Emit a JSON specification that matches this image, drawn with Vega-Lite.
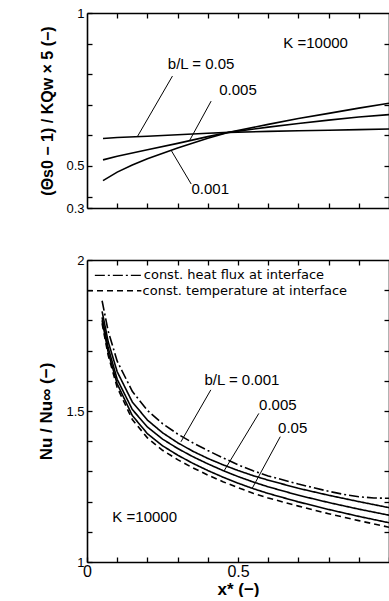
{
  "$schema": "https://vega.github.io/schema/vega-lite/v6.json",
  "padding": {"left": 37, "top": 7, "right": 0, "bottom": 0},
  "spacing": 39,
  "background": "white",
  "config": {
    "view": {"stroke": null},
    "axis": {
      "grid": false,
      "tickSize": -5,
      "tickColor": "black",
      "tickWidth": 1.3,
      "domainColor": "black",
      "domainWidth": 1.6,
      "labelFont": "Liberation Sans",
      "labelColor": "black",
      "labelFontSize": 13,
      "labelPadding": 8,
      "labelOverlap": false,
      "labelFlush": false,
      "titleFont": "Liberation Sans",
      "titleColor": "black",
      "titleFontWeight": "bold",
      "titleFontSize": 16
    }
  },
  "datasets": {
    "topCurves": [
      {"series": "0.05", "x": 0.053, "y": 0.590}, {"series": "0.05", "x": 0.1, "y": 0.593}, {"series": "0.05", "x": 0.2, "y": 0.597}, {"series": "0.05", "x": 0.3, "y": 0.602}, {"series": "0.05", "x": 0.4, "y": 0.607}, {"series": "0.05", "x": 0.47, "y": 0.610}, {"series": "0.05", "x": 0.6, "y": 0.613}, {"series": "0.05", "x": 0.7, "y": 0.615}, {"series": "0.05", "x": 0.8, "y": 0.617}, {"series": "0.05", "x": 0.9, "y": 0.619}, {"series": "0.05", "x": 1.0, "y": 0.621},
      {"series": "0.005", "x": 0.053, "y": 0.520}, {"series": "0.005", "x": 0.1, "y": 0.532}, {"series": "0.005", "x": 0.2, "y": 0.553}, {"series": "0.005", "x": 0.3, "y": 0.574}, {"series": "0.005", "x": 0.4, "y": 0.596}, {"series": "0.005", "x": 0.47, "y": 0.610}, {"series": "0.005", "x": 0.6, "y": 0.627}, {"series": "0.005", "x": 0.7, "y": 0.639}, {"series": "0.005", "x": 0.8, "y": 0.650}, {"series": "0.005", "x": 0.9, "y": 0.660}, {"series": "0.005", "x": 1.0, "y": 0.668},
      {"series": "0.001", "x": 0.053, "y": 0.452}, {"series": "0.001", "x": 0.1, "y": 0.480}, {"series": "0.001", "x": 0.15, "y": 0.503}, {"series": "0.001", "x": 0.2, "y": 0.524}, {"series": "0.001", "x": 0.3, "y": 0.559}, {"series": "0.001", "x": 0.4, "y": 0.591}, {"series": "0.001", "x": 0.47, "y": 0.610}, {"series": "0.001", "x": 0.6, "y": 0.636}, {"series": "0.001", "x": 0.7, "y": 0.655}, {"series": "0.001", "x": 0.8, "y": 0.672}, {"series": "0.001", "x": 0.9, "y": 0.689}, {"series": "0.001", "x": 1.0, "y": 0.705}
    ],
    "topLeaders": [
      {"x1": 0.283, "y1": 0.794, "x2": 0.168, "y2": 0.598},
      {"x1": 0.411, "y1": 0.712, "x2": 0.339, "y2": 0.582},
      {"x1": 0.345, "y1": 0.441, "x2": 0.280, "y2": 0.549}
    ],
    "topLabels": [
      {"x": 0.757, "y": 0.902, "label": "K =10000"},
      {"x": 0.378, "y": 0.833, "label": "b/L = 0.05"},
      {"x": 0.50, "y": 0.748, "label": "0.005"},
      {"x": 0.408, "y": 0.425, "label": "0.001"}
    ],
    "botCurves": [
      {"series": "hf", "style": "dashdot", "x": 0.05, "y": 1.865}, {"series": "hf", "style": "dashdot", "x": 0.07, "y": 1.765}, {"series": "hf", "style": "dashdot", "x": 0.1, "y": 1.665}, {"series": "hf", "style": "dashdot", "x": 0.15, "y": 1.565}, {"series": "hf", "style": "dashdot", "x": 0.2, "y": 1.502}, {"series": "hf", "style": "dashdot", "x": 0.25, "y": 1.458}, {"series": "hf", "style": "dashdot", "x": 0.3, "y": 1.424}, {"series": "hf", "style": "dashdot", "x": 0.35, "y": 1.395}, {"series": "hf", "style": "dashdot", "x": 0.4, "y": 1.369}, {"series": "hf", "style": "dashdot", "x": 0.45, "y": 1.345}, {"series": "hf", "style": "dashdot", "x": 0.5, "y": 1.322}, {"series": "hf", "style": "dashdot", "x": 0.55, "y": 1.302}, {"series": "hf", "style": "dashdot", "x": 0.6, "y": 1.285}, {"series": "hf", "style": "dashdot", "x": 0.7, "y": 1.258}, {"series": "hf", "style": "dashdot", "x": 0.8, "y": 1.234}, {"series": "hf", "style": "dashdot", "x": 0.85, "y": 1.224}, {"series": "hf", "style": "dashdot", "x": 0.9, "y": 1.216}, {"series": "hf", "style": "dashdot", "x": 0.95, "y": 1.212}, {"series": "hf", "style": "dashdot", "x": 1.0, "y": 1.211},
      {"series": "0.001", "style": "solid", "x": 0.05, "y": 1.83}, {"series": "0.001", "style": "solid", "x": 0.07, "y": 1.73}, {"series": "0.001", "style": "solid", "x": 0.1, "y": 1.63}, {"series": "0.001", "style": "solid", "x": 0.15, "y": 1.53}, {"series": "0.001", "style": "solid", "x": 0.2, "y": 1.47}, {"series": "0.001", "style": "solid", "x": 0.25, "y": 1.428}, {"series": "0.001", "style": "solid", "x": 0.3, "y": 1.395}, {"series": "0.001", "style": "solid", "x": 0.35, "y": 1.367}, {"series": "0.001", "style": "solid", "x": 0.4, "y": 1.343}, {"series": "0.001", "style": "solid", "x": 0.45, "y": 1.322}, {"series": "0.001", "style": "solid", "x": 0.5, "y": 1.303}, {"series": "0.001", "style": "solid", "x": 0.55, "y": 1.286}, {"series": "0.001", "style": "solid", "x": 0.6, "y": 1.271}, {"series": "0.001", "style": "solid", "x": 0.7, "y": 1.244}, {"series": "0.001", "style": "solid", "x": 0.8, "y": 1.221}, {"series": "0.001", "style": "solid", "x": 0.9, "y": 1.2}, {"series": "0.001", "style": "solid", "x": 1.0, "y": 1.18},
      {"series": "0.005", "style": "solid", "x": 0.05, "y": 1.81}, {"series": "0.005", "style": "solid", "x": 0.07, "y": 1.71}, {"series": "0.005", "style": "solid", "x": 0.1, "y": 1.605}, {"series": "0.005", "style": "solid", "x": 0.15, "y": 1.505}, {"series": "0.005", "style": "solid", "x": 0.2, "y": 1.447}, {"series": "0.005", "style": "solid", "x": 0.25, "y": 1.407}, {"series": "0.005", "style": "solid", "x": 0.3, "y": 1.376}, {"series": "0.005", "style": "solid", "x": 0.35, "y": 1.349}, {"series": "0.005", "style": "solid", "x": 0.4, "y": 1.325}, {"series": "0.005", "style": "solid", "x": 0.45, "y": 1.303}, {"series": "0.005", "style": "solid", "x": 0.5, "y": 1.283}, {"series": "0.005", "style": "solid", "x": 0.55, "y": 1.265}, {"series": "0.005", "style": "solid", "x": 0.6, "y": 1.249}, {"series": "0.005", "style": "solid", "x": 0.7, "y": 1.221}, {"series": "0.005", "style": "solid", "x": 0.8, "y": 1.197}, {"series": "0.005", "style": "solid", "x": 0.9, "y": 1.175}, {"series": "0.005", "style": "solid", "x": 1.0, "y": 1.155},
      {"series": "0.05", "style": "solid", "x": 0.05, "y": 1.80}, {"series": "0.05", "style": "solid", "x": 0.07, "y": 1.695}, {"series": "0.05", "style": "solid", "x": 0.1, "y": 1.59}, {"series": "0.05", "style": "solid", "x": 0.15, "y": 1.485}, {"series": "0.05", "style": "solid", "x": 0.2, "y": 1.425}, {"series": "0.05", "style": "solid", "x": 0.25, "y": 1.385}, {"series": "0.05", "style": "solid", "x": 0.3, "y": 1.354}, {"series": "0.05", "style": "solid", "x": 0.35, "y": 1.327}, {"series": "0.05", "style": "solid", "x": 0.4, "y": 1.303}, {"series": "0.05", "style": "solid", "x": 0.45, "y": 1.281}, {"series": "0.05", "style": "solid", "x": 0.5, "y": 1.261}, {"series": "0.05", "style": "solid", "x": 0.55, "y": 1.243}, {"series": "0.05", "style": "solid", "x": 0.6, "y": 1.227}, {"series": "0.05", "style": "solid", "x": 0.7, "y": 1.199}, {"series": "0.05", "style": "solid", "x": 0.8, "y": 1.174}, {"series": "0.05", "style": "solid", "x": 0.9, "y": 1.151}, {"series": "0.05", "style": "solid", "x": 1.0, "y": 1.13},
      {"series": "ct", "style": "dashed", "x": 0.05, "y": 1.79}, {"series": "ct", "style": "dashed", "x": 0.07, "y": 1.685}, {"series": "ct", "style": "dashed", "x": 0.1, "y": 1.578}, {"series": "ct", "style": "dashed", "x": 0.15, "y": 1.472}, {"series": "ct", "style": "dashed", "x": 0.2, "y": 1.411}, {"series": "ct", "style": "dashed", "x": 0.25, "y": 1.37}, {"series": "ct", "style": "dashed", "x": 0.3, "y": 1.339}, {"series": "ct", "style": "dashed", "x": 0.35, "y": 1.312}, {"series": "ct", "style": "dashed", "x": 0.4, "y": 1.288}, {"series": "ct", "style": "dashed", "x": 0.45, "y": 1.266}, {"series": "ct", "style": "dashed", "x": 0.5, "y": 1.246}, {"series": "ct", "style": "dashed", "x": 0.55, "y": 1.228}, {"series": "ct", "style": "dashed", "x": 0.6, "y": 1.212}, {"series": "ct", "style": "dashed", "x": 0.7, "y": 1.185}, {"series": "ct", "style": "dashed", "x": 0.8, "y": 1.16}, {"series": "ct", "style": "dashed", "x": 0.9, "y": 1.137}, {"series": "ct", "style": "dashed", "x": 1.0, "y": 1.115}
    ],
    "botLeaders": [
      {"x1": 0.41, "y1": 1.57, "x2": 0.311, "y2": 1.398},
      {"x1": 0.569, "y1": 1.492, "x2": 0.454, "y2": 1.302},
      {"x1": 0.64, "y1": 1.415, "x2": 0.547, "y2": 1.244}
    ],
    "botLabels": [
      {"x": 0.513, "y": 1.603, "label": "b/L = 0.001"},
      {"x": 0.632, "y": 1.52, "label": "0.005"},
      {"x": 0.681, "y": 1.444, "label": "0.05"},
      {"x": 0.191, "y": 1.149, "label": "K =10000"}
    ],
    "legendText": [
      {"x": 0.188, "y": 1.949, "label": "const. heat flux at interface"},
      {"x": 0.184, "y": 1.898, "label": "const. temperature at interface"}
    ],
    "legendHF": [{"x1": 0.026, "x2": 0.184, "y": 1.949}],
    "legendCT": [{"x1": 0.0, "x2": 0.18, "y": 1.898}]
  },
  "vconcat": [
    {
      "width": 302,
      "height": 195,
      "resolve": {"axis": {"x": "independent", "y": "independent"}},
      "layer": [
        {
          "data": {"name": "topCurves"},
          "mark": {"type": "line", "color": "black", "strokeWidth": 1.6},
          "encoding": {
            "x": {"field": "x", "type": "quantitative", "scale": {"domain": [0, 1], "nice": false},
                  "axis": {"orient": "bottom", "values": [0.1, 0.2, 0.3, 0.4, 0.5, 0.6, 0.7, 0.8, 0.9], "labels": false, "title": null}},
            "y": {"field": "y", "type": "quantitative", "scale": {"domain": [0.3627, 1], "nice": false, "zero": false},
                  "axis": {"orient": "left", "values": [0.3627, 0.4, 0.5, 0.6, 0.7, 0.8, 0.9, 1],
                           "labelExpr": "datum.value == 1 ? '1' : datum.value == 0.5 ? '0.5' : datum.value < 0.38 ? '0.3' : ''",
                           "title": "(Θs0 − 1) / KQw  × 5 (−)", "titlePadding": 10}},
            "detail": {"field": "series", "type": "nominal"}
          }
        },
        {
          "data": {"name": "topLeaders"},
          "mark": {"type": "rule", "color": "black", "strokeWidth": 1},
          "encoding": {
            "x": {"field": "x1", "type": "quantitative", "axis": null},
            "y": {"field": "y1", "type": "quantitative", "axis": null},
            "x2": {"field": "x2"},
            "y2": {"field": "y2"}
          }
        },
        {
          "data": {"name": "topLabels"},
          "mark": {"type": "text", "font": "Liberation Sans", "fontSize": 15, "color": "black", "align": "center", "baseline": "middle"},
          "encoding": {
            "x": {"field": "x", "type": "quantitative", "axis": null},
            "y": {"field": "y", "type": "quantitative", "axis": null},
            "text": {"field": "label"}
          }
        },
        {
          "data": {"name": "topCurves"},
          "mark": {"type": "line", "opacity": 0},
          "encoding": {
            "x": {"field": "x", "type": "quantitative",
                  "axis": {"orient": "top", "values": [0.1, 0.2, 0.3, 0.4, 0.5, 0.6, 0.7, 0.8, 0.9], "labels": false, "title": null}},
            "y": {"field": "y", "type": "quantitative",
                  "axis": {"orient": "right", "values": [0.4, 0.5, 0.6, 0.7, 0.8, 0.9], "labels": false, "title": null}},
            "detail": {"field": "series", "type": "nominal"}
          }
        }
      ]
    },
    {
      "width": 302,
      "height": 302,
      "resolve": {"axis": {"x": "independent", "y": "independent"}},
      "layer": [
        {
          "data": {"name": "botCurves"},
          "mark": {"type": "line", "color": "black", "strokeWidth": 1.6},
          "encoding": {
            "x": {"field": "x", "type": "quantitative", "scale": {"domain": [0, 1], "nice": false},
                  "axis": {"orient": "bottom", "values": [0, 0.1, 0.2, 0.3, 0.4, 0.5, 0.6, 0.7, 0.8, 0.9, 1],
                           "labelExpr": "datum.value == 0 ? '0' : datum.value == 0.5 ? '0.5' : ''",
                           "labelFontSize": 16, "labelPadding": 6,
                           "title": "x* (−)", "titleFontSize": 17, "titlePadding": 2}},
            "y": {"field": "y", "type": "quantitative", "scale": {"domain": [1, 2], "nice": false, "zero": false},
                  "axis": {"orient": "left", "values": [1, 1.1, 1.2, 1.3, 1.4, 1.5, 1.6, 1.7, 1.8, 1.9, 2],
                           "labelExpr": "datum.value == 1 ? '1' : datum.value == 1.5 ? '1.5' : datum.value == 2 ? '2' : ''",
                           "title": "Nu / Nu∞ (−)", "titlePadding": 10, "titleFontSize": 17}},
            "detail": {"field": "series", "type": "nominal"},
            "strokeDash": {"field": "style", "type": "nominal",
                           "scale": {"domain": ["solid", "dashdot", "dashed"], "range": [[1, 0], [10, 3, 2, 3], [6, 4]]},
                           "legend": null}
          }
        },
        {
          "data": {"name": "botLeaders"},
          "mark": {"type": "rule", "color": "black", "strokeWidth": 1},
          "encoding": {
            "x": {"field": "x1", "type": "quantitative", "axis": null},
            "y": {"field": "y1", "type": "quantitative", "axis": null},
            "x2": {"field": "x2"},
            "y2": {"field": "y2"}
          }
        },
        {
          "data": {"name": "legendHF"},
          "mark": {"type": "rule", "color": "black", "strokeWidth": 1.4, "strokeDash": [10, 3, 2, 3]},
          "encoding": {
            "x": {"field": "x1", "type": "quantitative", "axis": null},
            "x2": {"field": "x2"},
            "y": {"field": "y", "type": "quantitative", "axis": null}
          }
        },
        {
          "data": {"name": "legendCT"},
          "mark": {"type": "rule", "color": "black", "strokeWidth": 1.4, "strokeDash": [6, 4]},
          "encoding": {
            "x": {"field": "x1", "type": "quantitative", "axis": null},
            "x2": {"field": "x2"},
            "y": {"field": "y", "type": "quantitative", "axis": null}
          }
        },
        {
          "data": {"name": "botLabels"},
          "mark": {"type": "text", "font": "Liberation Sans", "fontSize": 15, "color": "black", "align": "center", "baseline": "middle"},
          "encoding": {
            "x": {"field": "x", "type": "quantitative", "axis": null},
            "y": {"field": "y", "type": "quantitative", "axis": null},
            "text": {"field": "label"}
          }
        },
        {
          "data": {"name": "legendText"},
          "mark": {"type": "text", "font": "DejaVu Sans", "fontSize": 13, "color": "black", "align": "left", "baseline": "middle"},
          "encoding": {
            "x": {"field": "x", "type": "quantitative", "axis": null},
            "y": {"field": "y", "type": "quantitative", "axis": null},
            "text": {"field": "label"}
          }
        },
        {
          "data": {"name": "botCurves"},
          "mark": {"type": "line", "opacity": 0},
          "encoding": {
            "x": {"field": "x", "type": "quantitative",
                  "axis": {"orient": "top", "values": [0.1, 0.2, 0.3, 0.4, 0.5, 0.6, 0.7, 0.8, 0.9], "labels": false, "title": null}},
            "y": {"field": "y", "type": "quantitative",
                  "axis": {"orient": "right", "values": [1.1, 1.2, 1.3, 1.4, 1.5, 1.6, 1.7, 1.8, 1.9], "labels": false, "title": null}},
            "detail": {"field": "series", "type": "nominal"}
          }
        }
      ]
    }
  ]
}
